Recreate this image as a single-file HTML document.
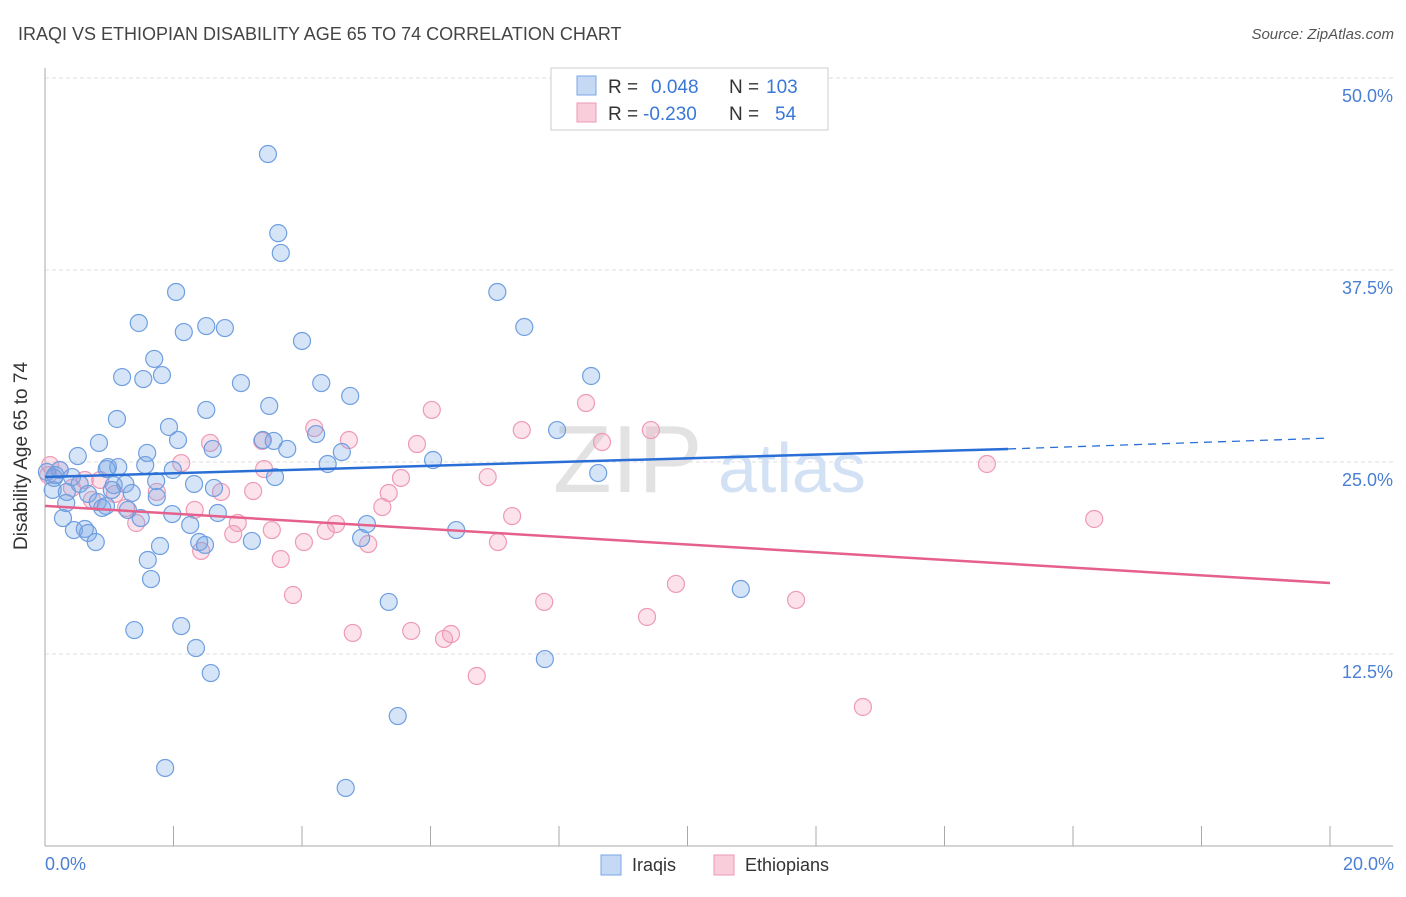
<!DOCTYPE html>
<html><head><meta charset="utf-8"><style>
body{margin:0;background:#fff;font-family:"Liberation Sans",sans-serif}
svg text{font-family:"Liberation Sans",sans-serif}
</style></head><body>
<svg id="chart" width="1406" height="892" xmlns="http://www.w3.org/2000/svg">
<text x="18" y="40" font-size="18" fill="#444">IRAQI VS ETHIOPIAN DISABILITY AGE 65 TO 74 CORRELATION CHART</text>
<text x="1394" y="39" font-size="15" fill="#555" font-style="italic" text-anchor="end">Source: ZipAtlas.com</text>
<g id="grid"></g>
<g><text x="553" y="492" font-size="96" fill="#e2e2e2" font-family="Liberation Serif">ZIP</text><text x="718" y="492" font-size="70" fill="#d3e1f5">atlas</text></g>
<g id="axes"></g>
<g id="pts"></g>
<g id="trend"></g>
<text x="27" y="456" font-size="19" fill="#333" text-anchor="middle" transform="rotate(-90 27 456)">Disability Age 65 to 74</text>
<text x="45" y="870" font-size="18" fill="#4a7fd4">0.0%</text>
<text x="1394" y="870" font-size="18" fill="#4a7fd4" text-anchor="end">20.0%</text>
<g>
<rect x="551" y="68" width="277" height="62" fill="#fff" stroke="#ccc"/>
<rect x="577" y="76" width="19" height="19" fill="#c5d9f5" stroke="#7aa6e6"/>
<rect x="577" y="103" width="19" height="19" fill="#f9cdda" stroke="#ee9ab6"/>
<text x="608" y="93" font-size="19" fill="#333">R = <tspan fill="#3a78d8" x="651">0.048</tspan><tspan fill="#333" x="729">N =</tspan><tspan fill="#3a78d8" x="766">103</tspan></text>
<text x="608" y="120" font-size="19" fill="#333">R = <tspan fill="#3a78d8" x="643">-0.230</tspan><tspan fill="#333" x="729">N =</tspan><tspan fill="#3a78d8" x="775">54</tspan></text>
</g>
<g>
<rect x="601" y="855" width="20" height="20" fill="#c5d9f5" stroke="#7aa6e6"/>
<text x="632" y="871" font-size="18" fill="#333">Iraqis</text>
<rect x="714" y="855" width="20" height="20" fill="#f9cdda" stroke="#ee9ab6"/>
<text x="745" y="871" font-size="18" fill="#333">Ethiopians</text>
</g>
</svg>
<script>
const yTicks=[12.5,25,37.5,50];
const yTickLabels=["12.5%","25.0%","37.5%","50.0%"];
const blueX=[3.47,3.63,3.67,2.04,7.04,1.46,2.16,2.51,2.80,7.46,4.00,1.70,1.82,1.20,1.53,3.05,4.30,8.50,4.75,2.51,3.49,1.12,1.93,4.22,7.97,0.84,2.07,3.39,3.56,2.61,3.77,1.59,0.51,4.62,6.04,0.98,1.56,1.14,4.40,0.23,0.03,0.14,0.42,0.54,8.61,3.58,1.99,0.96,1.07,1.25,1.73,2.32,2.63,0.12,0.34,0.67,1.35,1.74,0.82,0.33,0.95,1.29,0.89,1.98,2.69,1.49,0.28,2.26,5.01,6.40,0.45,0.62,0.67,4.92,3.22,0.79,2.40,2.49,1.79,1.60,1.65,5.35,10.83,1.39,2.12,2.35,7.78,2.58,5.49,1.87,4.68,0.16,1.04];
const blueY=[45.05,39.90,38.61,36.07,36.07,34.05,33.46,33.85,33.72,33.79,32.88,31.71,30.66,30.53,30.40,30.14,30.14,30.60,29.30,28.39,28.65,27.80,27.28,26.82,27.08,26.24,26.43,26.43,26.37,25.85,25.85,25.59,25.39,25.65,25.13,24.67,24.80,24.67,24.87,24.48,24.35,23.96,24.02,23.57,24.28,24.02,24.48,24.54,23.50,23.57,23.76,23.57,23.31,23.18,23.05,22.92,22.98,22.72,22.40,22.33,22.14,21.88,22.01,21.61,21.68,21.35,21.35,20.90,20.96,20.57,20.57,20.64,20.38,20.05,19.86,19.79,19.79,19.60,19.53,18.62,17.38,15.89,16.73,14.06,14.32,12.89,12.17,11.26,8.46,5.08,3.78,24.15,23.18];
const pinkX=[6.02,8.42,4.19,7.42,9.43,4.73,5.79,8.67,2.57,3.38,2.12,3.41,6.89,5.54,14.66,0.08,0.42,2.74,3.24,5.35,1.74,1.09,0.73,5.25,1.26,7.27,2.33,1.42,3.00,4.53,4.37,3.53,2.93,16.33,7.05,4.03,5.03,2.43,3.67,9.82,3.86,7.77,11.69,9.37,5.70,4.79,6.32,6.21,6.72,12.73,0.23,0.62,0.86,0.05];
const pinkY=[28.39,28.84,27.21,27.08,27.08,26.43,26.17,26.30,26.24,26.37,24.93,24.54,24.02,23.96,24.87,24.80,23.31,23.05,23.11,22.98,23.05,22.92,22.53,22.07,22.01,21.48,21.88,21.03,21.03,20.96,20.51,20.57,20.31,21.29,19.79,19.79,19.66,19.21,18.68,17.06,16.34,15.89,16.02,14.91,14.00,13.87,13.80,13.48,11.07,9.05,24.48,23.83,23.83,24.15];
const blueTrend=[24.02,25.85,26.56];
const blueTrendX=[0,14.99,20];
const pinkTrend=[22.14,17.12];
const pinkTrendX=[0,20];
const NS="http://www.w3.org/2000/svg";
const xs=v=>45+v*64.25;
const ys=v=>846-v*15.36;
function mk(t,a,p){const e=document.createElementNS(NS,t);for(const k in a)e.setAttribute(k,a[k]);p.appendChild(e);return e;}
const grid=document.getElementById('grid');
yTicks.forEach((t,i)=>{
 const l=mk('line',{x1:45,x2:1393,y1:ys(t),y2:ys(t),stroke:'#ddd','stroke-dasharray':'4,3'},grid);
 
 
 const tx=mk('text',{x:1393,y:ys(t)+24,'font-size':18,fill:'#4a7fd4','text-anchor':'end'},grid);
 tx.textContent=yTickLabels[i];
 
 
});
const axes=document.getElementById('axes');
mk('line',{x1:45,x2:45,y1:68,y2:846,stroke:'#aaa'},axes);
mk('line',{x1:45,x2:1393,y1:846,y2:846,stroke:'#aaa'},axes);
for(let i=0;i<=10;i++){const t=mk('line',{x1:xs(i*2),x2:xs(i*2),y1:826,y2:846,stroke:'#aaa'},axes);
 
 }
const pts=document.getElementById('pts');
pinkX.forEach((x,i)=>{const c=mk('circle',{cx:xs(x),cy:ys(pinkY[i]),r:8.5,fill:'rgba(242,160,188,0.3)',stroke:'#ee9ab6','stroke-width':1.2},pts);
 
 });
blueX.forEach((x,i)=>{const c=mk('circle',{cx:xs(x),cy:ys(blueY[i]),r:8.5,fill:'rgba(120,165,230,0.3)',stroke:'#6f9fe0','stroke-width':1.2},pts);
 
 });
const tr=document.getElementById('trend');
const b1=mk('line',{x1:xs(blueTrendX[0]),y1:ys(blueTrend[0]),x2:xs(blueTrendX[1]),y2:ys(blueTrend[1]),stroke:'#2a6fd6','stroke-width':2.5},tr);


const b2=mk('line',{x1:xs(blueTrendX[1]),y1:ys(blueTrend[1]),x2:xs(blueTrendX[2]),y2:ys(blueTrend[2]),stroke:'#2a6fd6','stroke-width':1.3,'stroke-dasharray':'8,6'},tr);


const p1=mk('line',{x1:xs(pinkTrendX[0]),y1:ys(pinkTrend[0]),x2:xs(pinkTrendX[1]),y2:ys(pinkTrend[1]),stroke:'#e6608c','stroke-width':2.5},tr);


</script>
</body></html>
